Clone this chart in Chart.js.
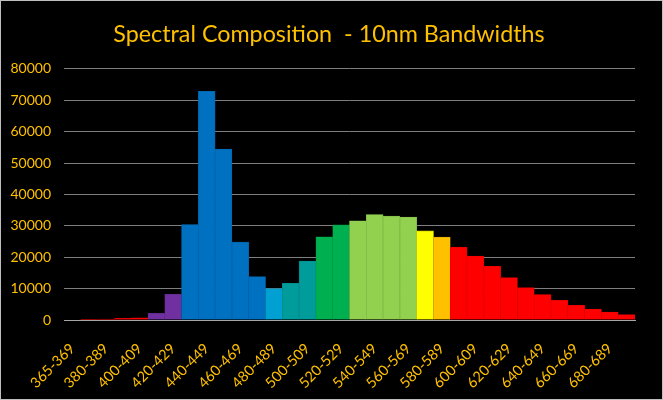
<!DOCTYPE html>
<html>
<head>
<meta charset="utf-8">
<script src="https://cdn.jsdelivr.net/npm/chart.js@4.4.0/dist/chart.umd.min.js"></script>
<style>
html,body{margin:0;padding:0;background:#fff;}
#wrap{position:absolute;left:0;top:0;width:661px;height:398px;border:1px solid #BFBFBF;background:#000;}
canvas{display:block;}
</style>
</head>
<body>
<div id="wrap"><canvas id="c" width="661" height="398"></canvas></div>
<script>
const categories = ["365-369","370-379","380-389","390-399","400-409","410-419","420-429","430-439","440-449","450-459","460-469","470-479","480-489","490-499","500-509","510-519","520-529","530-539","540-549","550-559","560-569","570-579","580-589","590-599","600-609","610-619","620-629","630-639","640-649","650-659","660-669","670-679","680-689","690-699"];
const values = [0,250,300,500,700,2100,8200,30400,72900,54500,24800,13800,10000,11700,18800,26500,30300,31600,33600,33100,32800,28400,26400,23200,20400,17100,13500,10300,8100,6300,4700,3500,2550,1700];
const barColors = ["#FF0000","#FF0000","#FF0000","#FF0000","#FF0000","#7030A0","#7030A0","#0070C0","#0070C0","#0070C0","#0070C0","#0070C0","#00A0D2","#009B9B","#009B9B","#00B050","#00B050","#92D050","#92D050","#92D050","#92D050","#FFFF00","#FFC000","#FF0000","#FF0000","#FF0000","#FF0000","#FF0000","#FF0000","#FF0000","#FF0000","#FF0000","#FF0000","#FF0000"];
const yTicks = [0,10000,20000,30000,40000,50000,60000,70000,80000];

function darker(hex){
  const n=parseInt(hex.slice(1),16);
  const r=Math.round(((n>>16)&255)*0.85), g=Math.round(((n>>8)&255)*0.85), b=Math.round((n&255)*0.85);
  return `rgb(${r},${g},${b})`;
}
const gold = "#FFC000";
new Chart(document.getElementById('c'), {
  type: 'bar',
  data: {
    labels: categories,
    datasets: [{
      data: values,
      backgroundColor: barColors,
      borderColor: barColors.map(darker),
      borderWidth: 0.6,
      categoryPercentage: 1.0,
      barPercentage: 1.0
    }]
  },
  options: {
    responsive: false,
    animation: false,
    layout: { padding: { left: 0, right: 5, top: 0, bottom: 0 } },
    plugins: {
      legend: { display: false },
      tooltip: { enabled: false },
      title: {
        display: true,
        text: "Spectral Composition  - 10nm Bandwidths",
        color: gold,
        font: { family: "Lato", size: 23.3, weight: 'normal', lineHeight: 1.2 },
        padding: { top: 19, bottom: 21 }
      }
    },
    scales: {
      x: {
        grid: { display: false },
        border: { display: true, color: '#A6A6A6', width: 1 },
        afterFit: function(s){ s.height = 79; },
        ticks: {
          color: gold,
          autoSkip: false,
          maxRotation: 45,
          minRotation: 45,
          padding: 12,
          font: { family: "Lato", size: 14.5 },
          callback: function(v, i){ return i % 2 === 0 ? categories[i] : ''; }
        }
      },
      y: {
        min: 0, max: 80000,
        afterBuildTicks: function(scale){ scale.ticks = yTicks.map(v => ({value: v})); },
        afterFit: function(s){ s.width = 63; },
        grid: {
          color: function(ctx){ return ctx.tick && ctx.tick.value === 0 ? '#A6A6A6' : '#7F7F7F'; },
          lineWidth: 1,
          drawTicks: false
        },
        border: { display: false },
        ticks: {
          color: gold,
          padding: 13,
          font: { family: "Lato", size: 14 },
          callback: function(v){ return String(v); }
        }
      },
      yRight: {
        position: 'right',
        min: 0, max: 80000,
        grid: { display: false, drawTicks: false },
        border: { display: false },
        ticks: { display: false },
        afterFit: function(s){ s.width = 22; }
      }
    }
  }
});
</script>
</body>
</html>
